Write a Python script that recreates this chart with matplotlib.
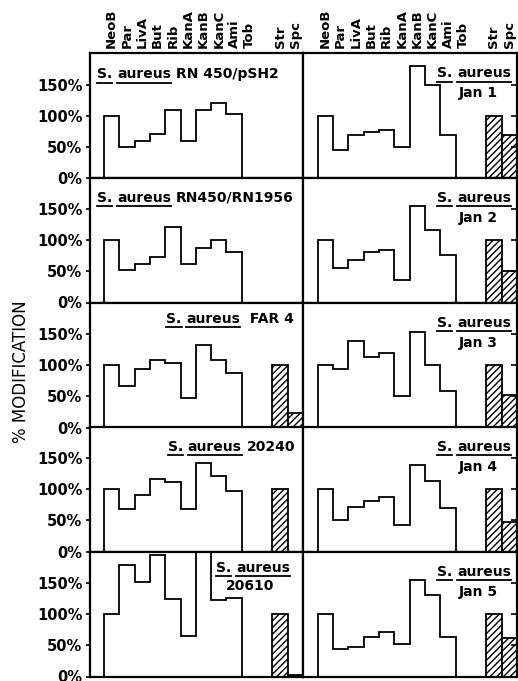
import numpy as np
import matplotlib
matplotlib.use("Agg")
import matplotlib.pyplot as plt
from matplotlib.lines import Line2D

# ---------------- data ----------------
drug_labels = ["NeoB", "Par", "LivA", "But", "Rib", "KanA", "KanB", "KanC", "Ami", "Tob"]
extra_labels = ["Str", "Spc"]

# % modification for NeoB..Ami (Tob not shown)
rn450_psh2 = [100, 50, 60, 71, 109, 60, 110, 121, 103]
rn450_rn1956 = [100, 52, 62, 74, 122, 62, 87, 100, 81]
far4 = [100, 67, 94, 109, 104, 48, 133, 109, 88]
s20240 = [100, 68, 91, 117, 112, 68, 143, 122, 98]
s20610 = [100, 180, 152, 196, 125, 66, 200, 124, 126]
jan1 = [100, 46, 70, 74, 78, 50, 180, 150, 70]
jan2 = [100, 55, 68, 81, 85, 37, 155, 117, 76]
jan3 = [100, 94, 139, 113, 120, 51, 154, 100, 58]
jan4 = [100, 51, 72, 82, 88, 43, 139, 113, 70]
jan5 = [100, 45, 47, 64, 72, 53, 155, 131, 64]

# Str / Spc (None = not shown)
rn450_psh2_ss = [None, None]
rn450_rn1956_ss = [None, None]
far4_ss = [100, 23]
s20240_ss = [100, None]
s20610_ss = [100, 2]
jan1_ss = [100, 70]
jan2_ss = [100, 50]
jan3_ss = [100, 53]
jan4_ss = [100, 48]
jan5_ss = [100, 62]

left_names = ["RN 450/pSH2", "RN450/RN1956", "FAR 4", "20240", "20610"]
right_names = ["Jan 1", "Jan 2", "Jan 3", "Jan 4", "Jan 5"]
yticks = [0, 50, 100, 150]
ytick_labels = ["0%", "50%", "100%", "150%"]

left_data = [(rn450_psh2, rn450_psh2_ss), (rn450_rn1956, rn450_rn1956_ss),
             (far4, far4_ss), (s20240, s20240_ss), (s20610, s20610_ss)]
right_data = [(jan1, jan1_ss), (jan2, jan2_ss), (jan3, jan3_ss),
              (jan4, jan4_ss), (jan5, jan5_ss)]

# ---------------- layout ----------------
W, H = 518, 681
fig = plt.figure(figsize=(W / 100, H / 100), dpi=100)
plt.rcParams['font.family'] = ['DejaVu Sans']

row_tops = [53.3, 177.7, 302.7, 426.7, 551.7]
row_h = 124.8
col_lefts = [89.5, 303.0]
col_w = [213.5, 214.0]

main_pos = np.arange(len(drug_labels))
extra_pos = np.array([11, 12])
label_pos = list(main_pos) + list(extra_pos)
label_txt = drug_labels + extra_labels

axes = []
for r in range(5):
    row = []
    for c in range(2):
        ax = fig.add_axes([col_lefts[c] / W, 1 - (row_tops[r] + row_h) / H,
                           col_w[c] / W, row_h / H])
        row.append(ax)
    axes.append(row)

for r in range(5):
    for c in range(2):
        ax = axes[r][c]
        vals, ss = (left_data if c == 0 else right_data)[r]
        n = len(vals)
        edges = np.arange(n + 1) - 0.5
        ax.stairs(vals, edges, baseline=0, fill=False, color='black', lw=1.3)
        for p, v in zip(extra_pos, ss):
            if v is not None:
                ax.bar(p, v, width=1.0, color='white', edgecolor='black',
                       hatch='/////', lw=1.3)
        ax.set_xlim(-1.45, 12.5)
        ax.set_ylim(0, 201)
        for s in ax.spines.values():
            s.set_linewidth(1.6)
        ax.set_yticks(yticks)
        if c == 0:
            ax.set_yticklabels(ytick_labels, fontsize=10.5, fontweight='bold')
            ax.tick_params(axis='y', direction='out', length=3, width=1.2, pad=2)
        else:
            ax.yaxis.tick_right()
            ax.set_yticklabels([])
            ax.tick_params(axis='y', direction='in', length=4, width=1.2)
        if r == 0:
            ax.xaxis.tick_top()
            ax.set_xticks(label_pos)
            ax.set_xticklabels(label_txt, rotation=90, fontsize=9.5,
                               fontweight='bold')
            ax.tick_params(axis='x', length=0, pad=4)
        else:
            ax.set_xticks([])

fig.text(21 / W, 1 - 372 / H, "% MODIFICATION", rotation=90, fontsize=12,
         ha='center', va='center')

# ---------------- titles with underlines ----------------
fig.canvas.draw()
renderer = fig.canvas.get_renderer()
fp = dict(fontsize=10, fontweight='bold')


def tw(s):
    t = fig.text(0, 0, s, **fp)
    w = t.get_window_extent(renderer).width
    t.remove()
    return w


SP = tw("x x") - tw("xx")


def draw_line(pieces, x, yb, align):
    widths = [tw(s) for s, _ in pieces]
    total = sum(widths) + SP * (len(pieces) - 1)
    if align == 'left':
        x0 = x
    elif align == 'right':
        x0 = x - total
    else:
        x0 = x - total / 2
    for (s, ul), w in zip(pieces, widths):
        fig.text(x0 / W, 1 - yb / H, s, ha='left', va='baseline', **fp)
        if ul:
            fig.add_artist(Line2D([x0 / W, (x0 + w) / W],
                                  [1 - (yb + 4.5) / H] * 2,
                                  transform=fig.transFigure, color='black', lw=1.3))
        x0 += w + SP


sa = [("S.", True), ("aureus", True)]
# left titles
draw_line(sa + [(left_names[0], False)], 97, row_tops[0] + 25, 'left')
draw_line(sa + [(left_names[1], False)], 97, row_tops[1] + 24, 'left')
draw_line(sa + [(" " + left_names[2], False)], 294, row_tops[2] + 20, 'right')
draw_line(sa + [(left_names[3], False)], 295, row_tops[3] + 24, 'right')
draw_line(sa, 253, row_tops[4] + 20, 'center')
draw_line([(left_names[4], False)], 250, row_tops[4] + 38, 'center')
# right titles
for r in range(5):
    draw_line(sa, 511, row_tops[r] + 24, 'right')
    draw_line([(right_names[r], False)], 478, row_tops[r] + 44, 'center')

fig.savefig("out.png", dpi=100)
